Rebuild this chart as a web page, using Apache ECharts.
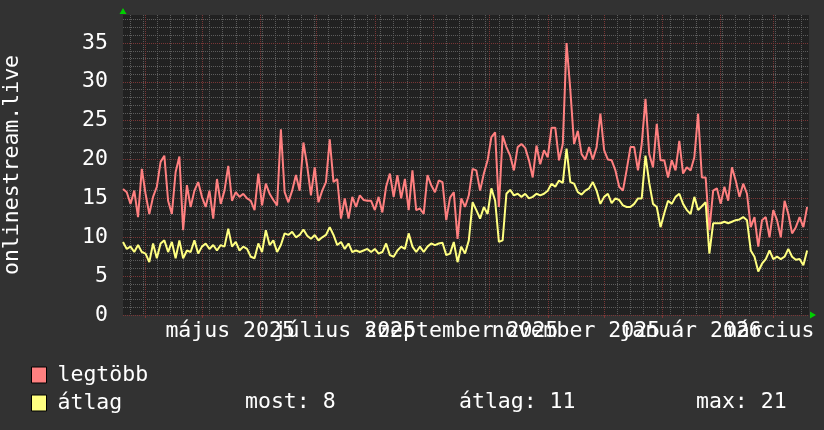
<!DOCTYPE html>
<html><head><meta charset="utf-8">
<script src="https://cdn.jsdelivr.net/npm/echarts@6/dist/echarts.min.js"></script>
<style>html,body{margin:0;padding:0;background:#323232;}#c{width:824px;height:430px;}</style>
</head><body><div id="c"></div>
<script>
// ---- data ----
const startDate = '2025-03-20';
const endDate = '2026-03-20';
const stepDays = 2;
const seriesNames = ['legtöbb', 'átlag'];
const maxValues = [
  16.2, 15.8, 14.3, 16, 12.6, 18.8, 15.6, 13, 15.2, 16.5,
  19.7, 20.5, 14.7, 13, 18.4, 20.4, 10.9, 16.7, 13.9, 16,
  17.1, 15.2, 13.9, 16, 12.4, 17.5, 14.3, 16, 19.2, 14.7,
  15.8, 15.2, 15.6, 15, 14.7, 13.5, 18.2, 14.1, 16.9, 15.6,
  14.8, 14.1, 23.9, 15.8, 14.5, 16, 18, 16, 22.2, 19.2,
  15.4, 19, 14.5, 16, 17.1, 22.6, 17.1, 17.5, 12.4, 15,
  12.4, 15.2, 13.9, 15.4, 14.8, 14.7, 14.7, 13.5, 15.2, 13.2,
  16.5, 18.2, 15.2, 18, 15, 17.5, 13.5, 18.6, 13.5, 13.7,
  13, 18, 16.7, 15.8, 17.3, 17.1, 12.2, 15.1, 15.8, 9.8,
  15, 13.9, 15.4,
  18.8, 18.6, 16, 18.2, 19.9, 22.9, 23.5,
  13.9, 23.1, 21.6, 20.5, 18.6, 21.6, 22, 21.5, 19.9, 17.7,
  21.8, 19.4, 21.2, 20.3, 24.1, 24.1, 19.9, 22, 35, 29,
  22, 23.7, 20.7, 20, 21.6, 20, 21.6, 25.9, 21.2, 20,
  19.9, 18.6, 16.5, 16, 18.7, 21.6, 21.6, 18.6, 22, 27.8,
  20.7, 19, 24.6, 19.9, 19.9, 17.7, 19.9, 18.6, 22.4, 18.2,
  19, 18.6, 20.3, 25.9, 17.7, 17.7, 10.9, 16, 16.3, 14.3,
  16.5, 14.7, 19, 17.3, 15.2, 16.9, 15.6, 11.3, 12.6, 8.8,
  12.2, 12.6, 10, 13.5, 12.2, 10, 14.7, 13, 10.5, 11.3,
  12.6, 11.3, 13.9
];
const avgValues = [
  9.4, 8.5, 8.8, 8.1, 9, 8.1, 7.9, 6.8, 9.2, 7.3,
  9.2, 9.6, 8.1, 9.4, 7.3, 9.6, 7.3, 8.3, 8.1, 9.6,
  7.9, 8.8, 9.2, 8.5, 9, 8.3, 9, 8.8, 11.1, 8.8,
  9.4, 8.3, 8.8, 8.5, 7.5, 7.3, 9.2, 8.1, 10.9, 9,
  9.6, 8.1, 9, 10.5, 10.3, 10.7, 10, 10.3, 11, 10.2,
  9.8, 10.3, 9.6, 10, 10.3, 11.3, 10.3, 9, 9.4, 8.5,
  9.2, 8.1, 8.3, 8.1, 8.3, 8.5, 8.1, 8.5, 7.9, 8.1,
  9.2, 7.7, 7.5, 8.3, 8.8, 8.5, 10.5, 8.8, 8.1, 8.8,
  8.1, 8.8, 9.2, 9, 9.2, 9.3, 7.7, 7.9, 9.4, 6.8,
  8.8, 7.9, 9.6,
  14.5, 13.5, 12.4, 13.9, 13, 16.3, 14.7,
  9.4, 9.6, 15.6, 16.1, 15.4, 15.6, 15.2, 15.6, 15, 15.2,
  15.6, 15.4, 15.6, 16, 16.9, 16.5, 17.3, 17, 21.4, 17.1,
  16.9, 15.8, 15.5, 16, 16.3, 17.1, 16, 14.3, 15.2, 15.6,
  14.4, 15, 14.8, 14.1, 13.9, 13.9, 14.3, 15, 15, 20.5,
  17, 14.3, 13.9, 11.3, 13.1, 14.7, 14.3, 15.2, 15.6, 14.3,
  13.5, 13, 15.2, 13.5, 14, 14.5, 7.9, 11.8, 11.8, 11.8,
  12, 11.8, 12, 12.2, 12.3, 12.6, 12.2, 8.3, 7.5, 5.6,
  6.6, 7.2, 8.3, 7.2, 7.5, 7.2, 7.5, 8.5, 7.5, 7.1,
  7.2, 6.4, 8.3
];
const monthGridDates = ['2025-04-01','2025-05-01','2025-06-01','2025-07-01','2025-08-01','2025-09-01',
  '2025-10-01','2025-11-01','2025-12-01','2026-01-01','2026-02-01','2026-03-01'];
const labelDates = ['2025-05-16','2025-07-16','2025-09-16','2025-11-16','2026-01-16','2026-03-16'];
const monthLabels = ['május 2025','július 2025','szeptember 2025','november 2025','január 2026','március 2026'];
const firstMonday = '2025-03-24';
const yTicks = [0, 5, 10, 15, 20, 25, 30, 35];
const yMax = 38.6;
const statLabels = ['most', 'átlag', 'max'];

// ---- build ----
const DAY = 86400000;
const T0 = Date.parse(startDate), T1 = Date.parse(endDate);
const toPts = vals => vals.map((v, i) => [T0 + i * stepDays * DAY, v]);
const monthVals = monthGridDates.map(d => Date.parse(d));
const labelVals = labelDates.map(d => Date.parse(d));
const labelsA = labelVals.filter((v, i) => i % 2 === 0);
const labelsB = labelVals.filter((v, i) => i % 2 === 1);
const weekVals = [];
for (let t = Date.parse(firstMonday); t < T1; t += 7 * DAY) weekVals.push(t);
const minorY = [];
for (let v = 1; v < yMax; v++) if (v % 5) minorY.push(v);

const FONT = 'DejaVu Sans Mono';
const FS = 21.5;
const GRIDMINOR = '#5c5c5c';
const GRIDMAJOR = '#7a3636';

const last = avgValues[avgValues.length - 1];
const mean = avgValues.reduce((a, b) => a + b, 0) / avgValues.length;
const mx = Math.max(...avgValues);
const statTexts = [statLabels[0] + ': ' + Math.round(last), statLabels[1] + ': ' + Math.round(mean), statLabels[2] + ': ' + Math.round(mx)];

const labelStyle = vals => ({customValues: vals, color: '#ffffff', fontFamily: FONT, fontSize: FS, margin: 5,
  showMinLabel: true, showMaxLabel: true, hideOverlap: false,
  formatter: v => monthLabels[labelVals.indexOf(v)] || ''});

const chart = echarts.init(document.getElementById('c'), null, {renderer: 'canvas'});
chart.setOption({
  backgroundColor: '#323232',
  animation: false,
  grid: {left: 123, right: 15, top: 15, bottom: 115, show: true, backgroundColor: '#212121', borderWidth: 0, outerBoundsMode: 'none'},
  xAxis: [
    {type: 'value', min: T0, max: T1, position: 'bottom', z: 0,
     axisLine: {show: false}, axisLabel: {show: false},
     axisTick: {show: false, customValues: weekVals},
     splitLine: {show: true, lineStyle: {color: GRIDMINOR, width: 1, type: [1, 1]}}},
    {type: 'value', min: T0, max: T1, position: 'bottom', z: 1,
     axisLine: {show: true, onZero: false, symbol: ['none', 'triangle'], symbolSize: [7, 6], symbolOffset: [0, 4],
       lineStyle: {color: '#00d000', opacity: 0}},
     axisTick: {show: true, customValues: monthVals, length: 3, lineStyle: {color: GRIDMAJOR}},
     axisLabel: labelStyle(labelsA),
     splitLine: {show: true, lineStyle: {color: GRIDMAJOR, width: 1, type: [1, 1]}}},
    {type: 'value', min: T0, max: T1, position: 'bottom', z: 1,
     axisLine: {show: false}, axisTick: {show: false, customValues: labelsB},
     splitLine: {show: false},
     axisLabel: labelStyle(labelsB)}
  ],
  yAxis: [
    {type: 'value', min: 0, max: yMax, position: 'left', z: 0,
     axisLine: {show: false}, axisLabel: {show: false},
     axisTick: {show: false, customValues: minorY},
     splitLine: {show: true, lineStyle: {color: GRIDMINOR, width: 1, type: [1, 1]}}},
    {type: 'value', min: 0, max: yMax, position: 'left', z: 1,
     name: 'onlinestream.live', nameLocation: 'middle', nameGap: 100,
     nameTextStyle: {color: '#ffffff', fontFamily: FONT, fontSize: FS},
     axisLine: {show: true, onZero: false, symbol: ['none', 'triangle'], symbolSize: [7, 6], symbolOffset: [0, 4],
       lineStyle: {color: '#00d000', opacity: 0}},
     axisTick: {show: false, customValues: yTicks},
     axisLabel: {customValues: yTicks, color: '#ffffff', fontFamily: FONT, fontSize: FS, margin: 15,
       showMinLabel: true, showMaxLabel: true},
     splitLine: {show: true, lineStyle: {color: GRIDMAJOR, width: 1, type: [1, 1]}}}
  ],
  legend: {
    orient: 'vertical', left: 31, top: 364, padding: 0, itemGap: 6,
    itemWidth: 15, itemHeight: 16, icon: 'rect', selectedMode: false,
    data: seriesNames,
    itemStyle: {borderColor: '#000000', borderWidth: 1},
    textStyle: {color: '#ffffff', fontFamily: FONT, fontSize: FS, lineHeight: 16, padding: [0, 0, 0, 6]}
  },
  graphic: statTexts.map((t, i) => ({
    type: 'text', x: [245, 459, 696][i], y: 402,
    style: {text: t, fill: '#ffffff', font: FS + 'px "' + FONT + '"', verticalAlign: 'middle', align: 'left'}
  })),
  series: [
    {name: seriesNames[0], type: 'line', xAxisIndex: 1, yAxisIndex: 1, data: toPts(maxValues),
     showSymbol: false, color: '#ff8080', lineStyle: {width: 2, color: '#ff8080'}},
    {name: seriesNames[1], type: 'line', xAxisIndex: 1, yAxisIndex: 1, data: toPts(avgValues),
     showSymbol: false, color: '#ffff80', lineStyle: {width: 2, color: '#ffff80'}}
  ]
});
</script></body></html>
